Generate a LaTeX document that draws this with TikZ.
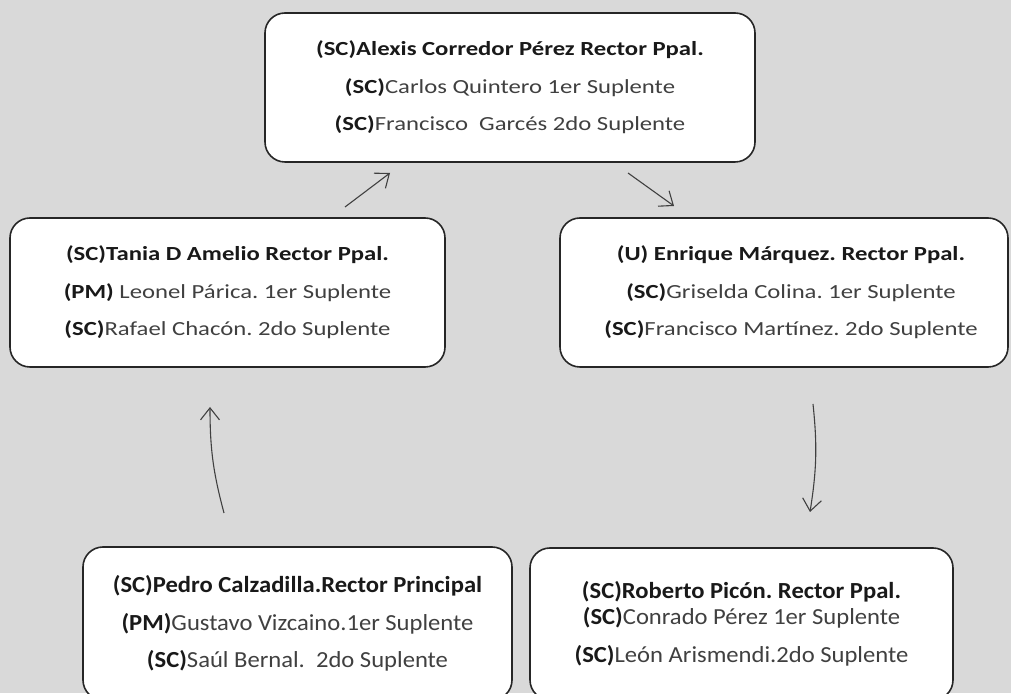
\documentclass[tikz,border=0pt]{standalone}
\usepackage{fontspec}
\setmainfont{Carlito}
\newfontfamily\letra{Carlito}[FakeStretch=1.235]
\newfontfamily\letrab{Carlito}[FakeStretch=1.07]
\usetikzlibrary{arrows.meta}
\definecolor{fondo}{HTML}{D9D9D9}
\definecolor{texto}{HTML}{404040}
\newcommand{\pref}[1]{\textbf{\color{black!90}#1}}
\frenchspacing
\begin{document}
\begin{tikzpicture}[x=1pt,y=1pt]
  \fill[fondo] (0,0) rectangle (1011,693);
  \useasboundingbox (0,0) rectangle (1011,693);
  \begin{scope}[every node/.style={rectangle,rounded corners=20pt,draw=black!85,line width=1.6pt,fill=white,
      minimum height=149pt,align=center,text=texto,font=\letra\fontsize{20}{37.5}\selectfont}]
    \node[minimum width=490pt] (arriba) at (510,605.5)
      {\pref{(SC)Alexis Corredor Pérez Rector Ppal.}\\\pref{(SC)}Carlos Quintero 1er Suplente\\\pref{(SC)}Francisco\ \ Garcés 2do Suplente};
    \node[minimum width=435pt] (izq) at (227.5,400.5)
      {\pref{(SC)Tania D Amelio Rector Ppal.}\\\pref{(PM)} Leonel Párica. 1er Suplente\\\pref{(SC)}Rafael Chacón. 2do Suplente};
    \node[minimum width=448pt] (der) at (784,400.5)
      {\hspace*{14pt}\pref{(U) Enrique Márquez. Rector Ppal.}\\\hspace*{14pt}\pref{(SC)}Griselda Colina. 1er Suplente\\\hspace*{14pt}\pref{(SC)}Francisco Martínez. 2do Suplente};
  \end{scope}
  \begin{scope}[every node/.style={rectangle,rounded corners=20pt,draw=black!85,line width=1.6pt,fill=white,
      minimum height=152pt,align=center,text=texto,font=\letrab\fontsize{23}{37.5}\selectfont}]
    \node[minimum width=429pt,minimum height=153pt] (abizq) at (297.5,69.5)
      {\pref{(SC)Pedro Calzadilla.Rector Principal}\\\pref{(PM)}Gustavo Vizcaino.1er Suplente\\\pref{(SC)}Saúl Bernal.\ \ 2do Suplente};
    \node[minimum width=423pt] (abder) at (741.5,69)
      {\pref{(SC)Roberto Picón. Rector Ppal.}\\[-11.5pt]\pref{(SC)}Conrado Pérez 1er Suplente\\\pref{(SC)}León Arismendi.2do Suplente};
  \end{scope}
  % extremos de las flechas
  \coordinate (f1a) at (345,486);
  \coordinate (f1b) at (390,520);
  \coordinate (f2a) at (628,520);
  \coordinate (f2b) at (674,487);
  \coordinate (f3a) at (813,289);
  \coordinate (f3b) at (810,181);
  \coordinate (f4a) at (224,180);
  \coordinate (f4b) at (210,286);
  \begin{scope}[every edge/.style={draw=black!75,line width=1.1pt,-{Straight Barb[length=12pt,width=19pt]}}]
    \path (f1a) edge (f1b);
    \path (f2a) edge (f2b);
    \path (f3a) edge[out=-84,in=81] (f3b);
    \path (f4a) edge[out=105,in=270] (f4b);
  \end{scope}
\end{tikzpicture}
\end{document}
